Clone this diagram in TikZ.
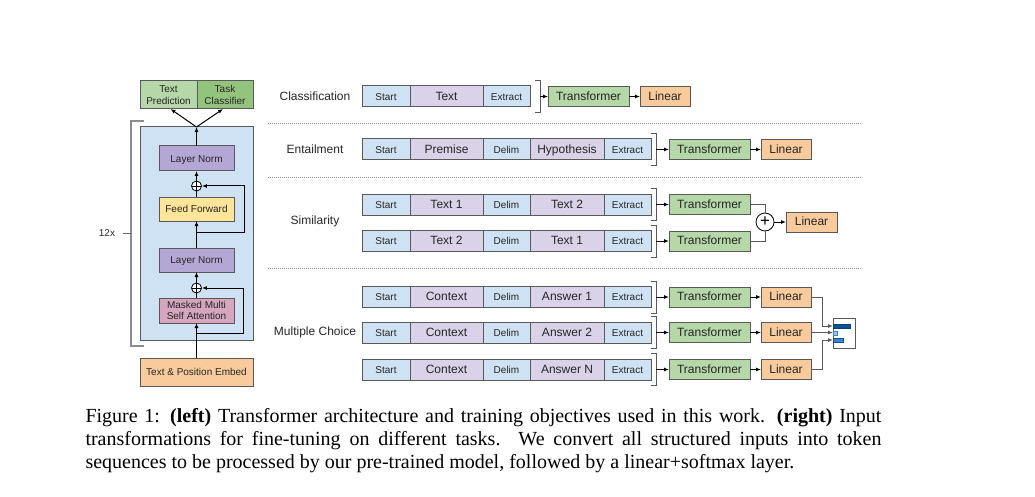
\documentclass[tikz,border=0pt]{standalone}
\usepackage{fontspec}
\setmainfont{Liberation Serif}
\setsansfont{Liberation Sans}
\usetikzlibrary{positioning,arrows.meta}

\definecolor{edgec}{HTML}{595959}
\definecolor{tokb}{HTML}{CFE2F3}
\definecolor{tokp}{HTML}{D9D2E9}
\definecolor{trfg}{HTML}{B6D7A8}
\definecolor{lino}{HTML}{F9CB9C}
\definecolor{lnp}{HTML}{B4A7D6}
\definecolor{ffy}{HTML}{FFE599}
\definecolor{attp}{HTML}{D5A6BD}
\definecolor{headg}{HTML}{93C47D}
\definecolor{bardk}{HTML}{0B5394}
\definecolor{barmd}{HTML}{3D85C6}
\definecolor{barlt}{HTML}{9FC5E8}

\tikzset{
  box/.style={draw=edgec, line width=1pt, inner sep=0pt, outer sep=0pt, text=black!85},
  big/.style={font=\sffamily\fontsize{12}{14}\selectfont},
  sml/.style={font=\sffamily\fontsize{10}{11.5}\selectfont},
  one/.style={text height=0.72em, text depth=0pt},
  tkb/.style={box, sml, one, fill=tokb, minimum height=21pt},
  tkp/.style={box, big, one, fill=tokp, minimum height=21pt},
  trf/.style={box, big, one, fill=trfg, minimum width=81pt, minimum height=20pt},
  lin/.style={box, big, one, fill=lino, minimum width=50pt, minimum height=20pt},
  blk/.style={box, sml, minimum width=75pt, minimum height=25pt},
  brk/.style={draw=edgec, line width=0.8pt},
  addc/.style={circle, draw=black, line width=0.8pt, fill=white, inner sep=0pt, minimum size=10pt,
    path picture={\draw[line width=0.8pt] (path picture bounding box.north) -- (path picture bounding box.south)
      (path picture bounding box.west) -- (path picture bounding box.east);}},
  task/.style={big, text=black!85},
}

\begin{document}
\begin{tikzpicture}[x=1pt, y=-1pt, >={Latex[length=5pt,width=4pt]}, line width=1pt]
  \useasboundingbox (0,0) rectangle (1035,497);

  % left: decoder block
  \node[box, fill=tokb, minimum width=113pt, minimum height=213pt] (blkbg) at (196.5,233.5) {};
  \node[box, sml, align=center, fill=trfg, minimum width=57pt, minimum height=28pt] (tp) at (168.5,95) {Text\\Prediction};
  \node[box, sml, align=center, fill=headg, minimum width=56pt, minimum height=28pt] (tc) at (225,95) {Task\\Classifier};
  \node[blk, one, fill=lnp] (ln2) at (196.5,158.5) {Layer Norm};
  \node[addc] (p2) at (196.5,186) {};
  \node[blk, one, fill=ffy, minimum height=24pt] (ff) at (196.5,209) {Feed Forward};
  \node[blk, one, fill=lnp, minimum height=24pt] (ln1) at (196.5,260) {Layer Norm};
  \node[addc] (p1) at (196.5,288) {};
  \node[blk, align=center, fill=attp] (att) at (196.5,310.5) {Masked Multi\\Self Attention};
  \node[box, sml, one, fill=lino, minimum width=113pt, minimum height=28pt] (emb) at (196.5,372) {Text \& Position Embed};

  \draw[->] (emb) -- (att);
  \coordinate (r1) at (196.5,333);
  \draw[->] (r1) -| ([xshift=46.5pt]p1.center) -- (p1);
  \draw (att) -- (p1);
  \draw[->] (p1) -- (ln1);
  \draw[->] (ln1) -- (ff);
  \coordinate (r2) at (196.5,232);
  \draw[->] (r2) -| ([xshift=47.5pt]p2.center) -- (p2);
  \draw (ff) -- (p2);
  \draw[->] (p2) -- (ln2);
  \coordinate (top) at (196.5,127);
  \draw[->] (ln2) -- (top);
  \draw[->] (top) -- ([xshift=2pt]tp.south);
  \draw[->] (top) -- ([xshift=-2pt]tc.south);

  % 12x bracket
  \draw[black!45, line width=1.2pt] (144,121) -- (131,121) -- (131,346) -- (144,346);
  \node[sml, text=black!85] (rep) at (107,233) {12x};
  \draw[black!60] (rep.east) ++(4pt,0) -- (131,233);

  % task labels and separators
  \node[task] (lcls) at (315,96.5) {Classification};
  \node[task] (lent) at (315,149.5) {Entailment};
  \node[task] (lsim) at (315,221) {Similarity};
  \node[task] (lmc) at (315,332.5) {Multiple Choice};
  \foreach \y in {123,177,268}
    \draw[black!45, line width=0.6pt, dash pattern=on 0.7pt off 1.3pt] (268,\y) -- (862,\y);

  % classification
  \node[tkb, minimum width=48pt, anchor=west] (c1) at (362,96.5) {Start};
  \node[tkp, minimum width=73pt, right=0pt of c1] (c2) {Text};
  \node[tkb, minimum width=47pt, right=0pt of c2] (c3) {Extract};
  \draw[brk] (535,80.5) -- (540,80.5) -- (540,112.5) -- (535,112.5);
  \coordinate (ck) at (540,96.5);
  \node[trf, anchor=west] (ct) at (548,96.5) {Transformer};
  \node[lin, anchor=west] (cl) at (640,96.5) {Linear};
  \draw[->] (ck) -- (ct);
  \draw[->] (ct) -- (cl);

  % rows with a delimiter
  \foreach \n/\y/\a/\b in {e/149.5/Premise/Hypothesis, sa/204.5/Text 1/Text 2, sb/241/Text 2/Text 1,
      ma/297/Context/Answer 1, mb/332.5/Context/Answer 2, mc/369.5/Context/Answer N}{
    \node[tkb, minimum width=48pt, anchor=west] (\n-1) at (362,\y) {Start};
    \node[tkp, minimum width=73pt, right=0pt of \n-1] (\n-2) {\a};
    \node[tkb, minimum width=47pt, right=0pt of \n-2] (\n-3) {Delim};
    \node[tkp, minimum width=74pt, right=0pt of \n-3] (\n-4) {\b};
    \node[tkb, minimum width=47pt, right=0pt of \n-4] (\n-5) {Extract};
    \draw[brk] (651,\y-16) -- (656,\y-16) -- (656,\y+16) -- (651,\y+16);
    \coordinate (\n-k) at (656,\y);
    \node[trf, anchor=west] (\n-t) at (669,\y) {Transformer};
    \draw[->] (\n-k) -- (\n-t);
  }

  % entailment head
  \node[lin, anchor=west] (e-l) at (761,149.5) {Linear};
  \draw[->] (e-t) -- (e-l);

  % similarity head
  \node[circle, draw=black, line width=0.8pt, fill=white, inner sep=0pt, minimum size=18pt,
    font=\sffamily\fontsize{17}{17}\selectfont] (sp) at (765,222) {+};
  \node[lin, minimum width=51pt, anchor=west] (s-l) at (786,222) {Linear};
  \draw[edgec] (sa-t) -| (sp);
  \draw[edgec] (sb-t) -| (sp);
  \draw[->] (sp) -- (s-l);

  % multiple choice head
  \foreach \n in {ma,mb,mc}{
    \node[lin, anchor=west] (\n-l) at (761,0 |- \n-t) {Linear};
    \draw[->] (\n-t) -- (\n-l);
  }
  \node[draw=edgec, line width=0.8pt, fill=white, minimum width=22pt, minimum height=30pt, inner sep=0pt] (sm) at (844,333) {};
  \draw[draw=bardk!80!black, fill=bardk, line width=0.6pt] (833,324) rectangle (850,328);
  \draw[draw=barmd, fill=barlt, line width=0.6pt] (833,331) rectangle (837,335);
  \draw[draw=bardk, fill=barmd, line width=0.6pt] (833,338) rectangle (843,342);
  \coordinate (b1) at (833,326);
  \coordinate (b2) at (833,332.5);
  \coordinate (b3) at (833,340);
  \draw[edgec, ->] (ma-l.east) -| ([xshift=-11pt]b1) -- (b1);
  \draw[edgec, ->] (mb-l) -- (b2);
  \draw[edgec, ->] (mc-l.east) -| ([xshift=-11pt]b3) -- (b3);

  % caption
  \node[anchor=north west, inner sep=0pt, text width=796pt, align=justify,
    font=\rmfamily\fontsize{20}{23}\selectfont] (cap) at (85,407.5)
    {Figure 1: \textbf{(left)} Transformer architecture and training objectives used in this work. \textbf{(right)} Input\linebreak
     transformations for fine-tuning on different tasks. We convert all structured inputs into token\linebreak
     sequences to be processed by our pre-trained model, followed by a linear+softmax layer.};
\end{tikzpicture}
\end{document}
